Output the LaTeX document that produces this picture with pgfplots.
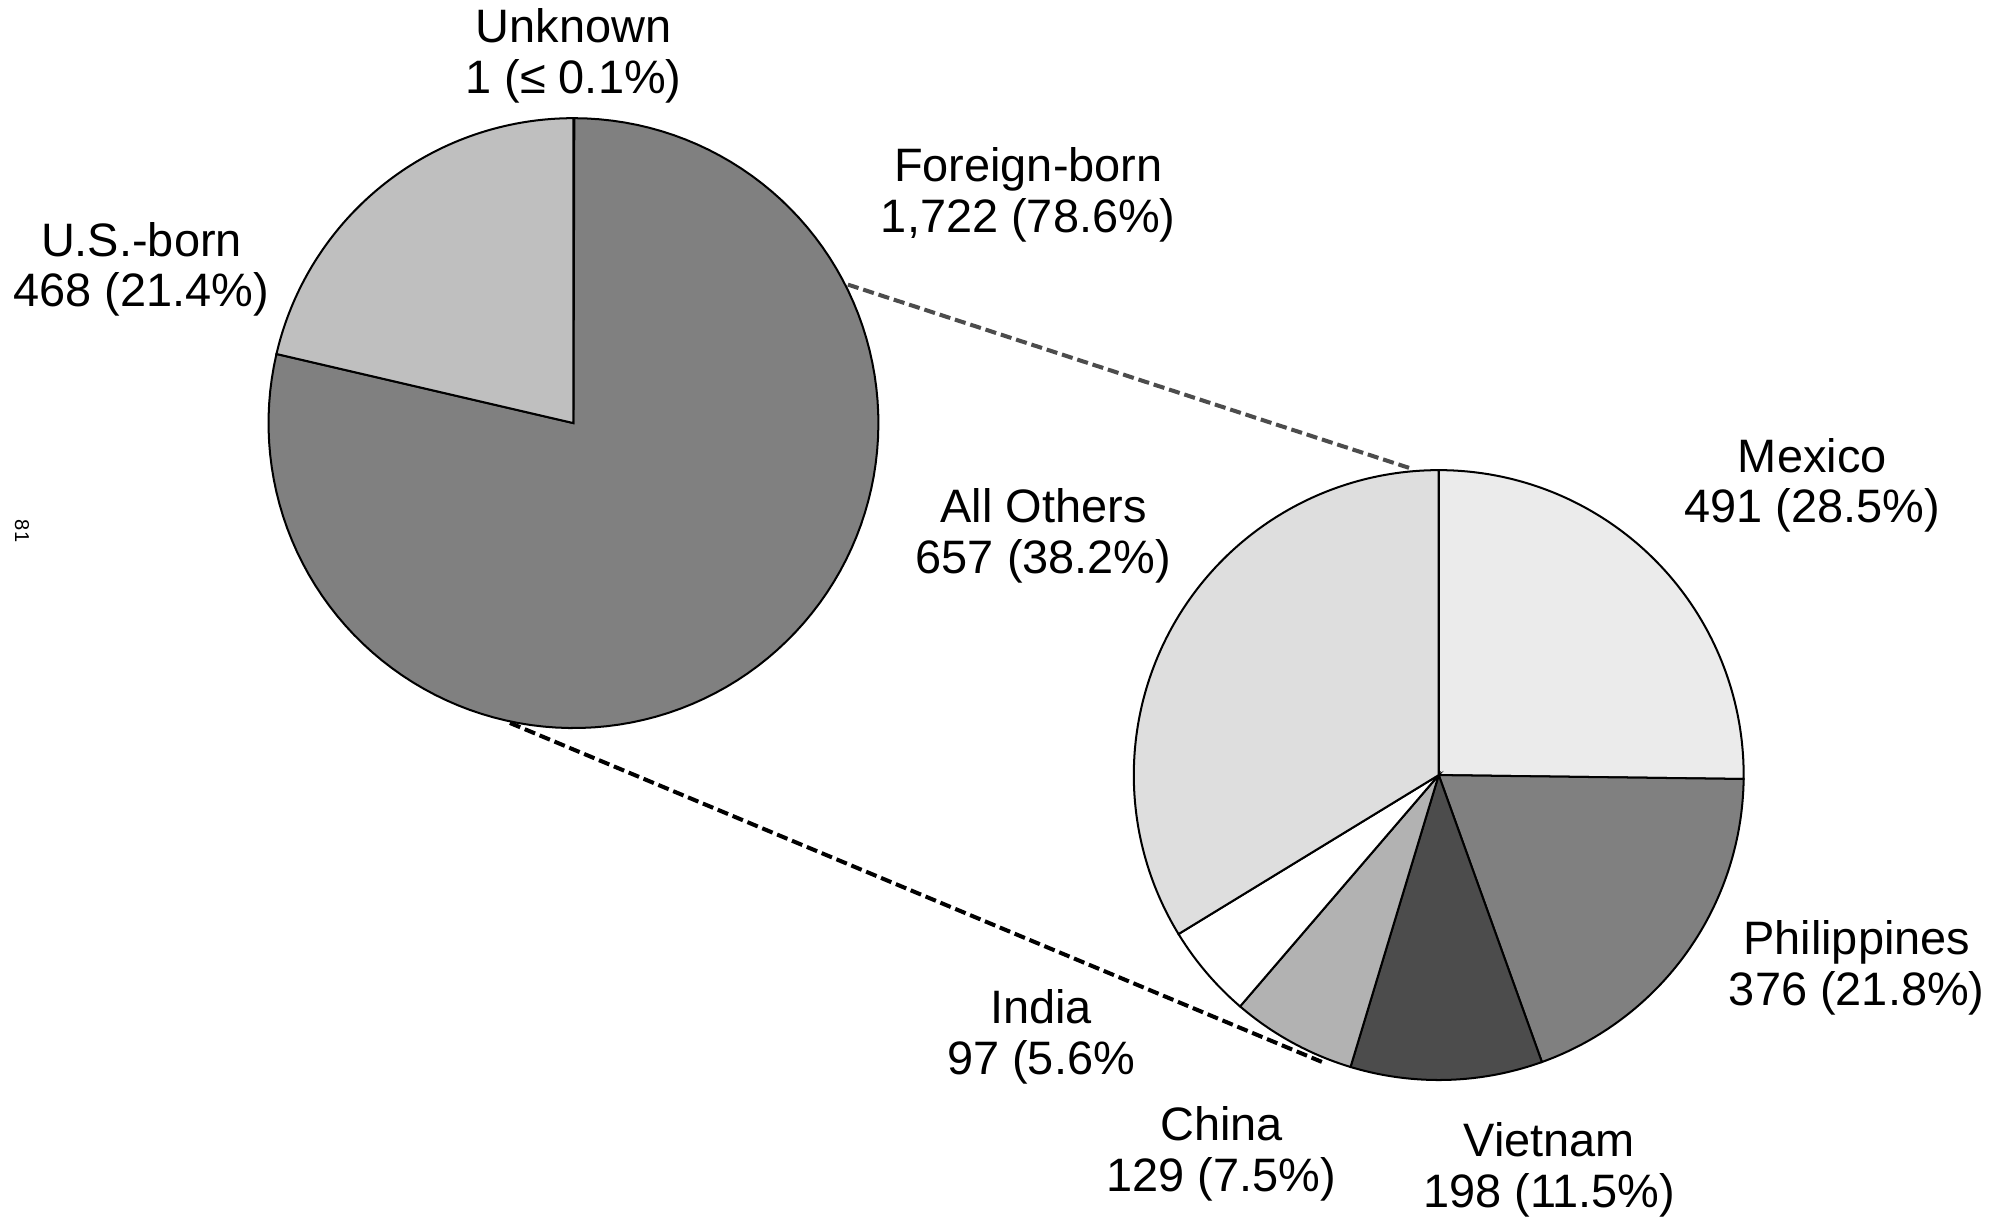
\documentclass[border=0pt]{standalone}
\usepackage{pgfplots}
\pgfplotsset{compat=1.18}
\usepackage{fontspec}
\setmainfont{Liberation Sans}

\tikzset{lab/.style={font=\fontsize{10.5}{11.4}\selectfont, align=center, inner sep=0pt}}

% one pie slice: fill, centre x, centre y, count before it, its count, pie total
\newcommand{\slice}[6]{%
  \pgfmathsetmacro\angA{90-360*((#4+#5)/#6)}%
  \pgfmathsetmacro\angB{90-360*(#4/#6)}%
  \addplot[draw=black, line width=0.45pt, fill=#1, domain=\angA:\angB, samples=120, variable=\t]
    ({#2+240*cos(\t)}, {#3+240*sin(\t)}) -- (axis cs:#2,#3) -- cycle;
}

\begin{document}
\begin{tikzpicture}
\begin{axis}[
  x=0.01cm, y=0.01cm,
  xmin=0, xmax=1568, ymin=0, ymax=960,
  hide axis, clip=false,
]
\path (axis cs:0,0) rectangle (axis cs:1568,960);

% nativity: Unknown 1, Foreign-born 1722, U.S.-born 468
\slice{white}{450}{627}{0}{1}{2191}
\slice{black!50}{450}{627}{1}{1722}{2191}
\slice{black!25}{450}{627}{1723}{468}{2191}

% country of birth
\slice{black!8}{1131}{350}{0}{491}{1948}
\slice{black!50}{1131}{350}{491}{376}{1948}
\slice{black!70}{1131}{350}{867}{198}{1948}
\slice{black!30}{1131}{350}{1065}{129}{1948}
\slice{white}{1131}{350}{1194}{97}{1948}
\slice{black!13}{1131}{350}{1291}{657}{1948}

% connector lines
\addplot[draw=black!70, line width=0.9pt, dash pattern=on 2.5pt off 1.1pt] coordinates {(666,736) (1110,591)};
\addplot[draw=black, line width=0.9pt, dash pattern=on 2.5pt off 1.1pt] coordinates {(400,391) (1042,123)};

\node[lab] at (axis cs:450,916) {Unknown\\1 (≤ 0.1\%)};
\node[lab] at (axis cs:110,748) {U.S.-born\\468 (21.4\%)};
\node[lab] at (axis cs:808,807) {Foreign-born\\1,722 (78.6\%)};
\node[lab] at (axis cs:1425,578) {Mexico\\491 (28.5\%)};
\node[lab] at (axis cs:820,538) {All Others\\657 (38.2\%)};
\node[lab] at (axis cs:1460,198) {Philippines\\376 (21.8\%)};
\node[lab] at (axis cs:818,144) {India\\97 (5.6\%};
\node[lab] at (axis cs:960,52) {China\\129 (7.5\%)};
\node[lab] at (axis cs:1218,39) {Vietnam\\198 (11.5\%)};
\node[rotate=-90, font=\fontsize{4.5}{5}\selectfont] at (axis cs:16,542) {81};
\end{axis}
\end{tikzpicture}
\end{document}
